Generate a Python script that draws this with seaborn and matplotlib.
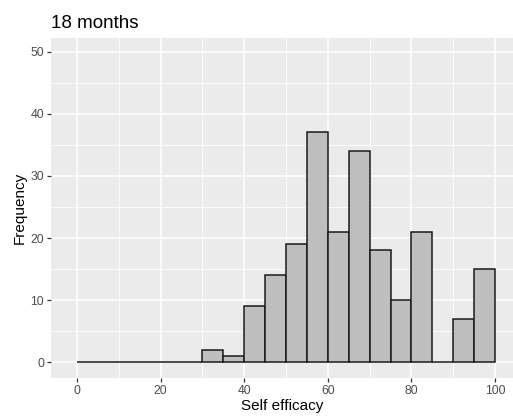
import numpy as np
import pandas as pd
import seaborn as sns
import matplotlib.pyplot as plt

# ---- data ----
bin_edges = [0, 5, 10, 15, 20, 25, 30, 35, 40, 45, 50, 55, 60, 65, 70, 75, 80, 85, 90, 95, 100]
counts = [0, 0, 0, 0, 0, 0, 2, 1, 9, 14, 19, 37, 21, 34, 18, 10, 21, 0, 7, 15]
x_ticks = [0, 20, 40, 60, 80, 100]
y_ticks = [0, 10, 20, 30, 40, 50]
title = "18 months"
x_label = "Self efficacy"
y_label = "Frequency"

sns.set_theme(style="darkgrid", rc={
    "axes.facecolor": "#EBEBEB",
    "grid.color": "white",
})
plt.rcParams['font.family'] = ['Liberation Sans', 'DejaVu Sans']

centers = [(a + b) / 2 for a, b in zip(bin_edges[:-1], bin_edges[1:])]
df = pd.DataFrame({"self_efficacy": centers, "n": counts})

fig = plt.figure(figsize=(5.13, 4.19), dpi=100)
ax = fig.add_axes([51 / 513, 41.3 / 419, 462 / 513, 340 / 419])

sns.histplot(data=df, x="self_efficacy", weights="n", bins=bin_edges,
             color="#BEBEBE", edgecolor="#1A1A1A", linewidth=1.1,
             alpha=1, ax=ax, zorder=3)

ax.set_xlim(-6.22, 104.3)
ax.set_ylim(-2.48, 52.25)
ax.set_xticks(x_ticks)
ax.set_yticks(y_ticks)
ax.set_xticks([10, 30, 50, 70, 90], minor=True)
ax.set_yticks([5, 15, 25, 35, 45], minor=True)
ax.grid(which="major", color="white", linewidth=1.1)
ax.grid(which="minor", color="white", linewidth=0.55)
ax.set_axisbelow(True)
for s in ax.spines.values():
    s.set_visible(False)

ax.tick_params(which="major", length=3, width=0.9, color="#333333",
               labelcolor="#4D4D4D", labelsize=8.8, pad=2,
               bottom=True, left=True)
ax.tick_params(which="minor", length=0)

ax.set_xlabel(x_label, fontsize=11, color="black", labelpad=2)
ax.set_ylabel(y_label, fontsize=11, color="black", labelpad=3)
ax.set_title(title, loc="left", fontsize=13.5, color="black", pad=7)

fig.savefig("out.png", dpi=100)
